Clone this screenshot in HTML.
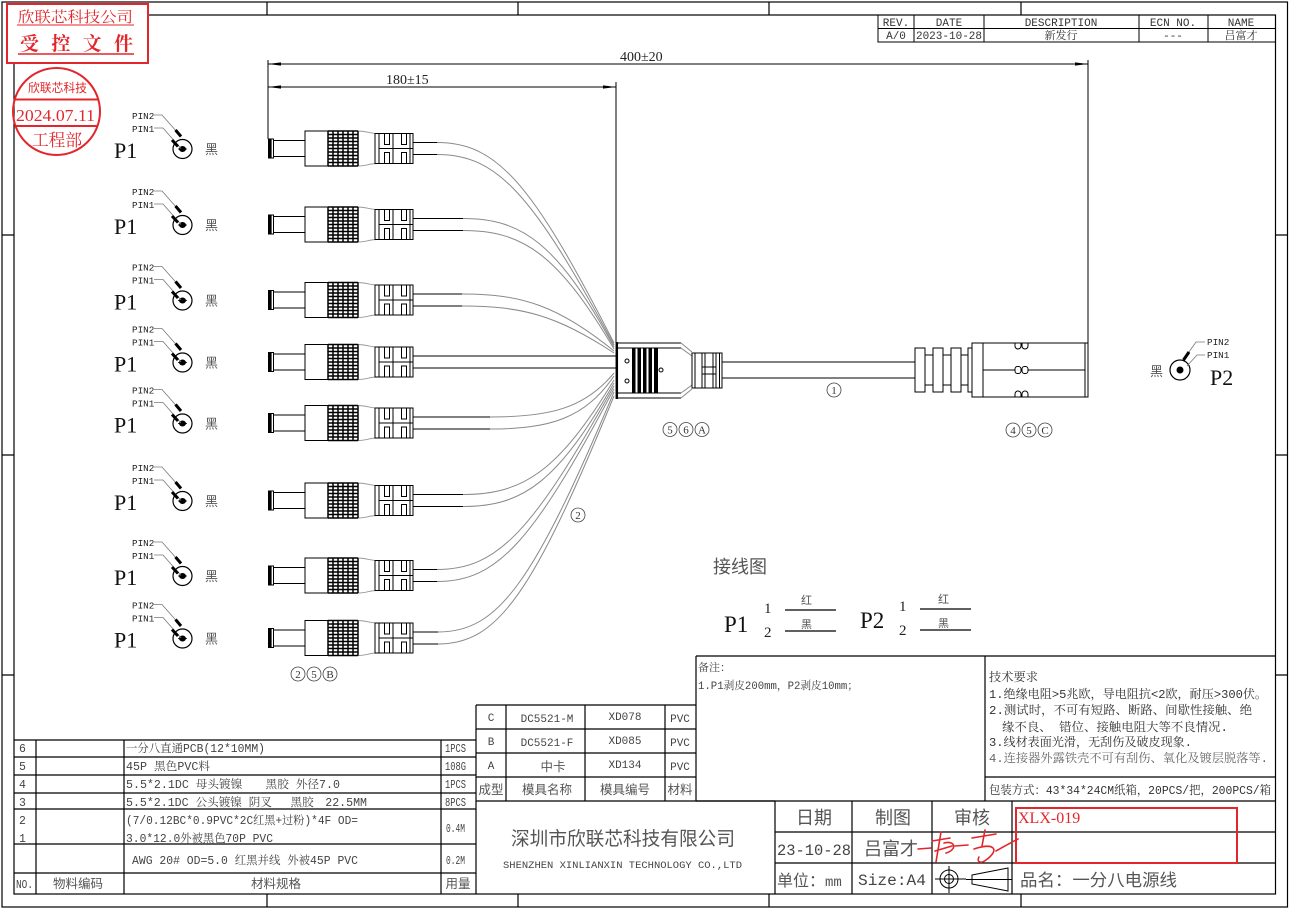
<!DOCTYPE html>
<html><head><meta charset="utf-8"><style>
html,body{margin:0;padding:0;background:#fff;}
svg{display:block;}
.m{font-family:"Liberation Mono","Noto Serif CJK SC",monospace;}
.s{font-family:"Liberation Serif","Noto Serif CJK SC",serif;}
.c{font-family:"Liberation Sans","Noto Sans CJK SC",sans-serif;}
</style></head><body>
<svg width="1291" height="912" viewBox="0 0 1291 912" xmlns="http://www.w3.org/2000/svg">
<defs>
<g id="p1c" fill="none" stroke="#000" stroke-width="1">
 <rect x="268.5" y="-9.5" width="5" height="19" fill="#fff"/>
 <rect x="268.5" y="-9.5" width="2.6" height="19" fill="#000"/>
 <rect x="273.5" y="-8" width="31.5" height="16"/>
 <path d="M359,-17.5H305V17.5H359"/>
 <path d="M358,-17.5C366,-17.5 370,-15 377,-15M358,17.5C366,17.5 370,15 377,15" stroke="#999"/>
 <path d="M328,-17.5V17.5M333,-17.5V17.5M338,-17.5V17.5M343,-17.5V17.5M348,-17.5V17.5M353,-17.5V17.5M358,-17.5V17.5" stroke-width="1.5"/>
 <path d="M328,-17.5H358M328,-14H358M328,-10.5H358M328,-7H358M328,-3.5H358M328,0H358M328,3.5H358M328,7H358M328,10.5H358M328,14H358M328,17.5H358" stroke-width="1.4"/>
 <path d="M375,-15H413V15H375Z"/>
 <path d="M379,-15V15M393,-15V15M410,-15V15"/>
 <path d="M379,0H413"/>
 <rect x="384.5" y="-15" width="5" height="11" fill="#fff"/>
 <rect x="384.5" y="4" width="5" height="11" fill="#fff"/>
 <rect x="401.5" y="-15" width="5" height="11" fill="#fff"/>
 <rect x="401.5" y="4" width="5" height="11" fill="#fff"/>
</g>
<g id="pins" fill="none" stroke="#000">
 <circle cx="182.5" cy="0.5" r="9.5" stroke-width="1.2"/>
 <ellipse cx="182.5" cy="0.5" rx="3" ry="2.5" fill="#000"/>
 <path d="M178,0.5H187" stroke-width="0.8"/>
 <path d="M154,-33.5H162L181,-12" stroke="#777" stroke-width="0.8"/>
 <path d="M175.5,-18.5L181,-12" stroke-width="3"/>
 <path d="M154,-20.5H163L181,0" stroke="#777" stroke-width="0.8"/>
 <path d="M172,-8.5L178,-2" stroke-width="3"/>
</g>
</defs>

<!-- borders -->
<g fill="none" stroke="#000" stroke-width="1.2">
 <rect x="2" y="2" width="1285.5" height="905"/>
 <rect x="14" y="15" width="1261.5" height="879"/>
 <path d="M267,2V15M518,2V15M769,2V15M1021,2V15M267,894V907M518,894V907M769,894V907M1021,894V907"/>
 <path d="M2,235H14M2,455H14M2,675H14M1275.5,235H1287.5M1275.5,455H1287.5M1275.5,675H1287.5"/>
</g>

<!-- revision table -->
<g fill="none" stroke="#000" stroke-width="1">
 <path d="M878,15V42H1275.5M878,28.5H1275.5M914,15V42M984,15V42M1139,15V42M1208,15V42"/>
</g>
<g class="m" font-size="11" fill="#333" text-anchor="middle">
 <text x="896" y="26">REV.</text>
 <text x="949" y="26">DATE</text>
 <text x="1061" y="26">DESCRIPTION</text>
 <text x="1173" y="26">ECN NO.</text>
 <text x="1241" y="26">NAME</text>
 <text x="896" y="39">A/0</text>
 <text x="949" y="39">2023-10-28</text>
 <text x="1061" y="39">新发行</text>
 <text x="1173" y="39">---</text>
 <text x="1241" y="39">吕富才</text>
</g>

<!-- stamp -->
<rect x="7" y="4" width="141" height="59" fill="#fff" stroke="#e3262b" stroke-width="2"/>
<text x="18" y="22" class="s" font-size="15" fill="#e3262b" textLength="115" lengthAdjust="spacingAndGlyphs">欣联芯科技公司</text>
<path d="M17,25H134" stroke="#e3262b" stroke-width="1"/>
<text x="20" y="50" class="s" font-size="19" font-weight="bold" fill="#e3262b" textLength="113" lengthAdjust="spacing">受控文件</text>
<path d="M18,54H134" stroke="#e3262b" stroke-width="1.5"/>
<circle cx="56.5" cy="111.5" r="43.5" fill="none" stroke="#e3262b" stroke-width="2"/>
<path d="M14.7,99.5H98.3M15.5,126H97.5" stroke="#e3262b" stroke-width="2"/>
<text x="28" y="92" class="c" font-size="12" fill="#e3262b" textLength="59" lengthAdjust="spacingAndGlyphs">欣联芯科技</text>
<text x="16" y="121" class="s" font-size="17" fill="#e3262b" textLength="79" lengthAdjust="spacingAndGlyphs">2024.07.11</text>
<text x="32" y="146" class="s" font-size="17" fill="#e3262b" textLength="50" lengthAdjust="spacingAndGlyphs">工程部</text>

<!-- dimensions -->
<g fill="none" stroke="#000" stroke-width="1">
 <path d="M268,60V139M616,82V343M1088,60V343"/>
 <path d="M268,64H1088M268,87H616"/>
</g>
<g fill="#000">
 <polygon points="268,64 281,62.4 281,65.6"/>
 <polygon points="1088,64 1075,62.4 1075,65.6"/>
 <polygon points="268,87 281,85.4 281,88.6"/>
 <polygon points="616,87 603,85.4 603,88.6"/>
</g>
<text x="620" y="61" class="s" font-size="14" fill="#222">400±20</text>
<text x="386" y="84" class="s" font-size="14" fill="#222">180±15</text>

<!-- P1 connectors -->
<use href="#p1c" y="148.5"/>
<use href="#p1c" y="224.5"/>
<use href="#p1c" y="300"/>
<use href="#p1c" y="362"/>
<use href="#p1c" y="423"/>
<use href="#p1c" y="500.5"/>
<use href="#p1c" y="575.5"/>
<use href="#p1c" y="638"/>

<!-- wires -->
<g fill="none" stroke="#000" stroke-width="1">
 <path d="M413,142.5H437M413,154.5H437"/>
 <path d="M413,218.5H463M413,230.5H463"/>
 <path d="M413,294H462M413,306H462"/>
 <path d="M413,356H616M413,368H616"/>
 <path d="M413,417H490M413,429H490"/>
 <path d="M413,494.5H463M413,506.5H463"/>
 <path d="M413,569.5H437M413,581.5H437"/>
 <path d="M413,632H438M413,644H438"/>
</g>
<g fill="none" stroke="#8a8a8a" stroke-width="1">
 <path d="M437,142.5C497,142.5 532,182.6 614,343"/>
 <path d="M437,154.5C497,154.5 532,192.6 614,345"/>
 <path d="M463,218.5C523,218.5 558,244.2 614,347"/>
 <path d="M463,230.5C523,230.5 558,254.2 614,349"/>
 <path d="M462,294C522,294 557,305.4 614,351"/>
 <path d="M462,306C522,306 557,315.4 614,353"/>
 <path d="M490,417C550,417 585,408.2 614,373"/>
 <path d="M490,429C550,429 585,418.4 614,376"/>
 <path d="M463,494.5C523,494.5 558,471.6 614,380"/>
 <path d="M463,506.5C523,506.5 558,481.8 614,383"/>
 <path d="M437,569.5C497,569.5 532,532.8 614,386"/>
 <path d="M437,581.5C497,581.5 532,543 614,389"/>
 <path d="M438,632C498,632 533,584 614,392"/>
 <path d="M438,644C498,644 533,593.6 614,396"/>
</g>

<!-- pin symbols and labels P1 -->
<use href="#pins" y="148.5"/>
<use href="#pins" y="224.5"/>
<use href="#pins" y="300"/>
<use href="#pins" y="362"/>
<use href="#pins" y="423"/>
<use href="#pins" y="500.5"/>
<use href="#pins" y="575.5"/>
<use href="#pins" y="638"/>
<g class="s" font-size="22" fill="#111">
 <text x="114" y="158">P1</text>
 <text x="114" y="234">P1</text>
 <text x="114" y="309.5">P1</text>
 <text x="114" y="371.5">P1</text>
 <text x="114" y="432.5">P1</text>
 <text x="114" y="510">P1</text>
 <text x="114" y="585">P1</text>
 <text x="114" y="647.5">P1</text>
</g>
<g class="c" font-size="13" fill="#555">
 <text x="205" y="154">黑</text>
 <text x="205" y="230">黑</text>
 <text x="205" y="305.5">黑</text>
 <text x="205" y="367.5">黑</text>
 <text x="205" y="428.5">黑</text>
 <text x="205" y="506">黑</text>
 <text x="205" y="581">黑</text>
 <text x="205" y="643.5">黑</text>
</g>
<g class="m" font-size="9.3" fill="#222">
 <text x="132" y="119">PIN2</text><text x="132" y="132">PIN1</text>
 <text x="132" y="195">PIN2</text><text x="132" y="208">PIN1</text>
 <text x="132" y="270.5">PIN2</text><text x="132" y="283.5">PIN1</text>
 <text x="132" y="332.5">PIN2</text><text x="132" y="345.5">PIN1</text>
 <text x="132" y="393.5">PIN2</text><text x="132" y="406.5">PIN1</text>
 <text x="132" y="471">PIN2</text><text x="132" y="484">PIN1</text>
 <text x="132" y="546">PIN2</text><text x="132" y="559">PIN1</text>
 <text x="132" y="608.5">PIN2</text><text x="132" y="621.5">PIN1</text>
</g>

<!-- hub -->
<g fill="none" stroke="#000" stroke-width="1">
 <path d="M617,343H681M617,348H681M617,393H681M617,398H681"/>
 <path d="M616.8,342V399" stroke-width="2.5"/>
 <path d="M681,343L692,352M681,348L692,356M681,398L692,389M681,393L692,385" stroke="#888"/>
 <path d="M692,353H722V388H692Z"/>
 <path d="M695,353V388M702,353V388M705,353V388M713,353V388M716,353V388M719.5,353V388"/>
 <path d="M702,367H716M702,374H716"/>
 <circle cx="627" cy="361" r="2"/>
 <circle cx="627" cy="381" r="2"/>
 <circle cx="661" cy="370" r="2"/>
 <path d="M722,362H915M722,378H915"/>
</g>
<g fill="#000">
 <rect x="632" y="348" width="3.5" height="45"/>
 <rect x="637.5" y="348" width="3.5" height="45"/>
 <rect x="643" y="348" width="3.5" height="45"/>
 <rect x="648.5" y="348" width="3.5" height="45"/>
 <rect x="654" y="348" width="4" height="45"/>
</g>

<!-- P2 connector -->
<g fill="none" stroke="#000" stroke-width="1">
 <rect x="915" y="348" width="10" height="44"/>
 <rect x="933" y="348" width="10" height="44"/>
 <rect x="951" y="348" width="10" height="44"/>
 <rect x="968" y="348" width="4" height="44"/>
 <path d="M925,355H933M943,355H951M961,355H968M925,385H933M943,385H951M961,385H968"/>
 <rect x="972" y="343" width="116" height="54"/>
 <path d="M983,343V397M1085,343V397"/>
 <path d="M983,370H1015M1028,370H1085"/>
 <rect x="1015" y="366.5" width="6" height="7" rx="2.5"/>
 <rect x="1022" y="366.5" width="6" height="7" rx="2.5"/>
 <path d="M1015,343V346a3,3 0 0 0 6,0V343M1022,343V346a3,3 0 0 0 6,0V343"/>
 <path d="M1015,397V394a3,3 0 0 1 6,0V397M1022,397V394a3,3 0 0 1 6,0V397"/>
</g>
<!-- P2 pin -->
<g fill="none" stroke="#000">
 <circle cx="1180" cy="370" r="10" stroke-width="1.2"/>
 <circle cx="1180" cy="370" r="3" fill="#000"/>
 <path d="M1205,342H1196L1184,359" stroke="#777" stroke-width="0.8"/>
 <path d="M1189,352L1183.5,360" stroke-width="3"/>
 <path d="M1205,355H1197L1187,366" stroke="#777" stroke-width="0.8"/>
</g>
<text x="1207" y="345" class="m" font-size="9.3" fill="#222">PIN2</text>
<text x="1207" y="358" class="m" font-size="9.3" fill="#222">PIN1</text>
<text x="1150" y="376" class="c" font-size="13" fill="#555">黑</text>
<text x="1210" y="385" class="s" font-size="22" fill="#111">P2</text>

<!-- circled labels -->
<g fill="none" stroke="#444" stroke-width="0.8">
 <circle cx="670" cy="429.5" r="7"/><circle cx="686" cy="429.5" r="7"/><circle cx="702" cy="429.5" r="7"/>
 <circle cx="1013" cy="430" r="7"/><circle cx="1029" cy="430" r="7"/><circle cx="1045" cy="430" r="7"/>
 <circle cx="298" cy="674" r="7"/><circle cx="314" cy="674" r="7"/><circle cx="330" cy="674" r="7"/>
 <circle cx="578" cy="515" r="7"/>
 <circle cx="834" cy="390" r="7"/>
</g>
<g class="s" font-size="11" fill="#333" text-anchor="middle">
 <text x="670" y="433.5">5</text><text x="686" y="433.5">6</text><text x="702" y="433.5">A</text>
 <text x="1013" y="434">4</text><text x="1029" y="434">5</text><text x="1045" y="434">C</text>
 <text x="298" y="678">2</text><text x="314" y="678">5</text><text x="330" y="678">B</text>
 <text x="578" y="519">2</text>
 <text x="834" y="394">1</text>
</g>

<!-- wiring diagram -->
<text x="713" y="573" class="c" font-size="18" fill="#555">接线图</text>
<text x="724" y="632" class="s" font-size="23" fill="#111">P1</text>
<text x="764" y="613" class="s" font-size="15" fill="#222">1</text>
<text x="764" y="637" class="s" font-size="15" fill="#222">2</text>
<text x="860" y="628" class="s" font-size="23" fill="#111">P2</text>
<text x="899" y="611" class="s" font-size="15" fill="#222">1</text>
<text x="899" y="635" class="s" font-size="15" fill="#222">2</text>
<path d="M785,610H836M785,631H836M920,609H971M920,630H971" stroke="#000" stroke-width="1.2"/>
<g class="c" font-size="11" fill="#555">
 <text x="801" y="604">红</text><text x="801" y="628">黑</text>
 <text x="938" y="603">红</text><text x="938" y="627">黑</text>
</g>

<!-- bottom tables -->
<g fill="none" stroke="#000" stroke-width="1.2">
 <path d="M14,740H476M14,757H476M14,775H476M14,793H476M14,809H476M14,844H476M14,873H476"/>
 <path d="M36,740V894M124,740V894M441,740V894M476,705V894"/>
 <path d="M476,705H696M476,729H696M476,753H696M476,777H696M476,801H775"/>
 <path d="M506,705V801M585,705V801M665,705V801M696,656V801"/>
 <path d="M696,656H1275.5M985,656V801M985,777H1275.5M696,801H1275.5"/>
 <path d="M775,801V894M852,801V894M932,801V894M1012,801V894"/>
 <path d="M775,832H1275.5M775,863H1275.5"/>
</g>
<g class="m" font-size="11.5" fill="#444">
 <text x="19" y="752">6</text>
 <text x="19" y="770">5</text>
 <text x="19" y="788">4</text>
 <text x="19" y="806">3</text>
 <text x="19" y="824">2</text>
 <text x="19" y="842">1</text>
 <text x="126" y="752" textLength="139" lengthAdjust="spacingAndGlyphs">一分八直通PCB(12*10MM)</text>
 <text x="126" y="770" textLength="84" lengthAdjust="spacingAndGlyphs">45P 黑色PVC料</text>
 <text x="126" y="788" textLength="214" lengthAdjust="spacingAndGlyphs">5.5*2.1DC 母头镀镍　　黑胶 外径7.0</text>
 <text x="126" y="806" textLength="241" lengthAdjust="spacingAndGlyphs">5.5*2.1DC 公头镀镍 阴叉　 黑胶　22.5MM</text>
 <text x="126" y="824" textLength="232" lengthAdjust="spacingAndGlyphs">(7/0.12BC*0.9PVC*2C红黑+过粉)*4F OD=</text>
 <text x="126" y="842" textLength="147" lengthAdjust="spacingAndGlyphs">3.0*12.0外被黑色70P PVC</text>
 <text x="132" y="864" textLength="226" lengthAdjust="spacingAndGlyphs">AWG 20#  OD=5.0 红黑并线 外被45P PVC</text>
 <text x="445" y="752" textLength="21" lengthAdjust="spacingAndGlyphs">1PCS</text>
 <text x="445" y="770" textLength="21" lengthAdjust="spacingAndGlyphs">108G</text>
 <text x="445" y="788" textLength="21" lengthAdjust="spacingAndGlyphs">1PCS</text>
 <text x="445" y="806" textLength="21" lengthAdjust="spacingAndGlyphs">8PCS</text>
 <text x="446" y="832" textLength="19" lengthAdjust="spacingAndGlyphs">0.4M</text>
 <text x="446" y="864" textLength="19" lengthAdjust="spacingAndGlyphs">0.2M</text>
 <text x="16" y="888" textLength="17" lengthAdjust="spacingAndGlyphs">NO.</text>
</g>
<g class="c" font-size="12.5" fill="#555" text-anchor="middle">
 <text x="78" y="888">物料编码</text>
 <text x="276" y="888">材料规格</text>
 <text x="458" y="888">用量</text>
</g>
<g class="m" font-size="11" fill="#444" text-anchor="middle">
 <text x="491" y="721">C</text><text x="547" y="722">DC5521-M</text><text x="625" y="720">XD078</text><text x="680" y="722">PVC</text>
 <text x="491" y="745">B</text><text x="547" y="746">DC5521-F</text><text x="625" y="744">XD085</text><text x="680" y="746">PVC</text>
 <text x="491" y="769">A</text><text x="625" y="768">XD134</text><text x="680" y="770">PVC</text>
</g>
<g class="c" font-size="12.5" fill="#555" text-anchor="middle">
 <text x="553" y="771">中卡</text>
 <text x="491" y="794">成型</text>
 <text x="547" y="794">模具名称</text>
 <text x="625" y="794">模具编号</text>
 <text x="680" y="794">材料</text>
</g>
<g class="m" font-size="11" fill="#444">
 <text x="698" y="671">备注：</text>
 <text x="698" y="689" textLength="160" lengthAdjust="spacingAndGlyphs">1.P1剥皮200mm，P2剥皮10mm；</text>
</g>
<g class="m" font-size="12" fill="#333">
 <text x="989" y="681" textLength="49" lengthAdjust="spacingAndGlyphs">技术要求</text>
 <text x="989" y="698" textLength="278" lengthAdjust="spacingAndGlyphs">1.绝缘电阻&gt;5兆欧，导电阻抗&lt;2欧，耐压&gt;300伏。</text>
 <text x="989" y="714" textLength="263" lengthAdjust="spacingAndGlyphs">2.测试时，不可有短路、断路、间歇性接触、绝</text>
 <text x="1002" y="731" textLength="226" lengthAdjust="spacingAndGlyphs">缘不良、 错位、接触电阻大等不良情况.</text>
 <text x="989" y="746" textLength="203" lengthAdjust="spacingAndGlyphs">3.线材表面光滑，无刮伤及破皮现象.</text>
 <text x="989" y="762" fill="#666" textLength="279" lengthAdjust="spacingAndGlyphs">4.连接器外露铁壳不可有刮伤、氧化及镀层脱落等.</text>
 <text x="989" y="794" textLength="282" lengthAdjust="spacingAndGlyphs">包装方式：43*34*24CM纸箱，20PCS/把，200PCS/箱</text>
</g>
<text x="511" y="845" class="c" font-size="19" fill="#555" textLength="224" lengthAdjust="spacingAndGlyphs">深圳市欣联芯科技有限公司</text>
<text x="503" y="868" class="m" font-size="10.5" fill="#444" textLength="239" lengthAdjust="spacingAndGlyphs">SHENZHEN XINLIANXIN TECHNOLOGY CO.,LTD</text>
<g class="c" font-size="18" fill="#555" text-anchor="middle">
 <text x="814" y="824">日期</text>
 <text x="893" y="824">制图</text>
 <text x="972" y="824">审核</text>
 <text x="891" y="855">吕富才</text>
</g>
<text x="777" y="855" class="m" font-size="15.5" fill="#444" textLength="74" lengthAdjust="spacingAndGlyphs">23-10-28</text>
<text x="777" y="886" class="c" font-size="16" fill="#555">单位：<tspan class="m" font-size="14">mm</tspan></text>
<text x="858" y="885" class="m" font-size="15.5" fill="#444" textLength="68" lengthAdjust="spacingAndGlyphs">Size:A4</text>
<g fill="none" stroke="#000" stroke-width="1">
 <circle cx="949" cy="879" r="9"/>
 <circle cx="949" cy="879" r="4.5"/>
 <path d="M935,879H966M949,866V893"/>
 <path d="M972,875L1008,868V891L972,884Z"/>
 <path d="M966,879.5H1012"/>
</g>
<g fill="none" stroke="#e3262b" stroke-width="1.6" stroke-linecap="round">
 <path d="M918,849L931,848"/>
 <path d="M932,841L950,838M941,832L936,862M944,843C956,840 957,850 946,853M935,851L952,846"/>
 <path d="M955,846L968,845"/>
 <path d="M972,838L996,834M985,830L982,846M974,849C995,842 1000,850 986,860C981,864 976,862 979,857"/>
 <path d="M996,851C1005,846 1010,843 1018,839"/>
</g>
<rect x="1016" y="808" width="221" height="55" fill="none" stroke="#e3262b" stroke-width="2"/>
<text x="1018" y="823" class="s" font-size="16" fill="#e3262b">XLX-019</text>
<text x="1020" y="886" class="c" font-size="17" fill="#555" textLength="157" lengthAdjust="spacingAndGlyphs">品名：一分八电源线</text>
</svg>
</body></html>
